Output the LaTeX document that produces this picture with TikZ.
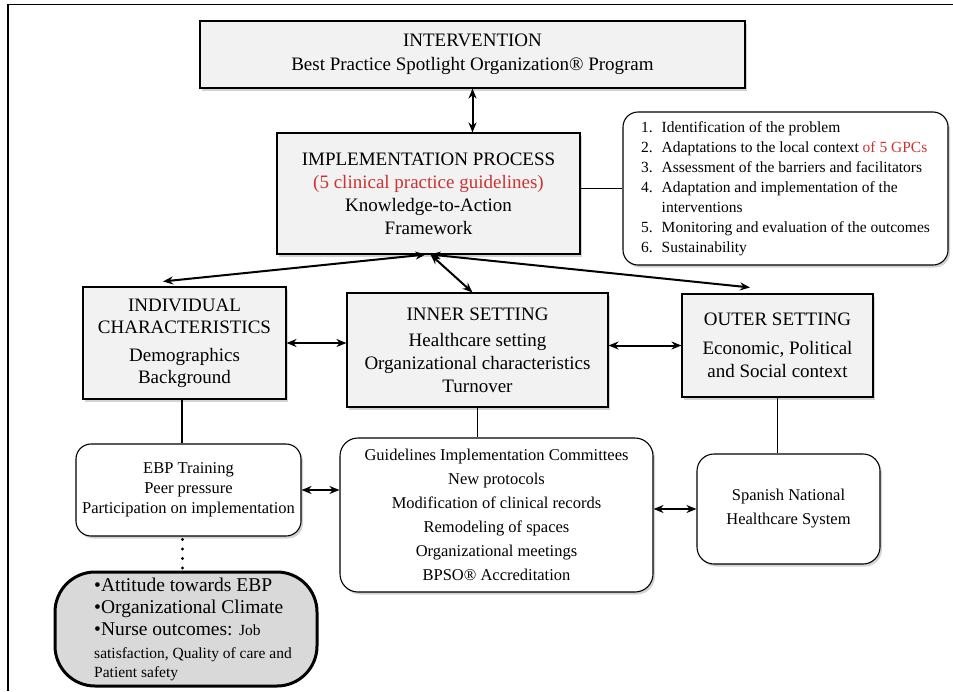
\documentclass[tikz,border=0pt]{standalone}
\usepackage{fontspec}
\setmainfont{Liberation Serif}
\usepackage{xcolor}
\usetikzlibrary{
    arrows.meta,
    shadows,
    positioning
}
\definecolor{boxgray}{HTML}{F2F2F2}
\definecolor{pillgray}{HTML}{D9D9D9}
\definecolor{gpcred}{HTML}{CC3333}
\newcommand{\pillpad}{\hspace*{14pt}}
\newcommand{\pillsmall}{\fontsize{15.5}{19}\selectfont}
\tikzset{
    mainbox/.style={draw, fill=boxgray, line width=1.1pt, align=center, inner sep=0pt,
        font=\fontsize{19}{23}\selectfont,
        drop shadow={shadow xshift=2pt, shadow yshift=-2.5pt, opacity=0.35}},
    roundbox/.style={mainbox, fill=white, rounded corners=15pt},
    link/.style={line width=2pt, {Stealth[length=10pt,width=8pt]}-{Stealth[length=10pt,width=8pt]}},
    tie/.style={line width=1.4pt}
}

\begin{document}
\begin{tikzpicture}[x=1pt, y=-1pt]
                                \useasboundingbox (0,0) rectangle (953,691);
                                \draw[line width=1.3pt] (953,4.5) -- (8,4.5) -- (8,691);
                                \node[mainbox, minimum width=545pt, minimum height=67pt] (interv) at (472.5,54.5)
                                    {INTERVENTION\\[1pt]Best Practice Spotlight Organization® Program};
                                \node[mainbox, minimum width=303pt, minimum height=121pt] (impl) at (428.5,193.5)
                                    {IMPLEMENTATION PROCESS\\\textcolor{gpcred}{(5 clinical practice guidelines)}\\Knowledge-to-Action\\Framework};
                                \node[roundbox, minimum width=325pt, minimum height=153pt, font=\fontsize{15.5}{20}\selectfont] (steps) at (785.5,188.5)
                                    {\begin{tabular}{@{}l@{\hspace{9pt}}l@{}}
                                    1. & Identification of the problem\\
                                    2. & Adaptations to the local context \textcolor{gpcred}{of 5 GPCs}\\
                                    3. & Assessment of the barriers and facilitators\\
                                    4. & Adaptation and implementation of the\\
                                       & interventions\\
                                    5. & Monitoring and evaluation of the outcomes\\
                                    6. & Sustainability
                                    \end{tabular}};
                                \node[mainbox, minimum width=203pt, minimum height=112pt, font=\fontsize{19}{22}\selectfont] (indiv) at (184.5,343)
                                    {INDIVIDUAL\\CHARACTERISTICS\\[6pt]Demographics\\Background};
                                \node[mainbox, minimum width=261pt, minimum height=114pt] (inner) at (477.5,350)
                                    {INNER SETTING\\[3pt]Healthcare setting\\Organizational characteristics\\Turnover};
                                \node[mainbox, minimum width=191pt, minimum height=103pt] (outer) at (777.5,345.5)
                                    {OUTER SETTING\\[6pt]Economic, Political\\and Social context};
                                \node[roundbox, minimum width=225pt, minimum height=92pt, font=\fontsize{16.5}{20}\selectfont] (training) at (188.5,490)
                                    {EBP Training\\Peer pressure\\Participation on implementation};
                                \node[roundbox, minimum width=313pt, minimum height=154pt, rounded corners=18pt, font=\fontsize{16.5}{24}\selectfont] (actions) at (496.5,515)
                                    {Guidelines Implementation Committees\\New protocols\\Modification of clinical records\\Remodeling of spaces\\Organizational meetings\\BPSO® Accreditation};
                                \node[roundbox, minimum width=183pt, minimum height=110pt, rounded corners=17pt, font=\fontsize{16.5}{24}\selectfont] (snhs) at (788.5,509)
                                    {Spanish National\\Healthcare System};
                                \node[draw, fill=pillgray, line width=3pt, rounded corners=40pt, minimum width=262pt, minimum height=114pt,
                                    inner sep=0pt, align=left, font=\fontsize{19.5}{22}\selectfont] (outcomes) at (186,629)
                                    {\pillpad•Attitude towards EBP\\\pillpad•Organizational Climate\\\pillpad•Nurse outcomes: {\pillsmall Job}\\[1pt]
                                    \pillpad{\pillsmall satisfaction, Quality of care and}\\[-3pt]\pillpad{\pillsmall Patient safety}};
                                \draw[link] (interv.south) -- (interv.south |- impl.north);
                                \draw[tie] (steps.west -| impl.east) -- (steps.west);
                                \draw[link] ([xshift=-3pt]impl.south) -- ([xshift=-21.5pt, yshift=5pt]indiv.north);
                                \draw[link] ([xshift=2pt]impl.south) -- ([xshift=-5pt]inner.north);
                                \draw[link] ([xshift=2pt]impl.south) -- ([xshift=-27.5pt, yshift=6pt]outer.north);
                                \draw[link] (indiv.east) -- (indiv.east -| inner.west);
                                \draw[link] (inner.east |- outer.west) -- (outer.west);
                                \draw[tie] ([xshift=-2.5pt]indiv.south) -- ([xshift=-2.5pt]indiv.south |- training.north);
                                \draw[tie] (inner.south) -- (inner.south |- actions.north);
                                \draw[tie] (outer.south) -- (outer.south |- snhs.north);
                                \draw[link] (training.east) -- (training.east -| actions.west);
                                \draw[link] (actions.east |- snhs.west) -- (snhs.west);
                                \draw[line width=3.2pt, line cap=round, dash pattern=on 0pt off 9.5pt]
                                    ([xshift=-6pt, yshift=-3pt]training.south) -- ([xshift=-6pt]training.south |- outcomes.north);
                            \end{tikzpicture}
\end{document}
